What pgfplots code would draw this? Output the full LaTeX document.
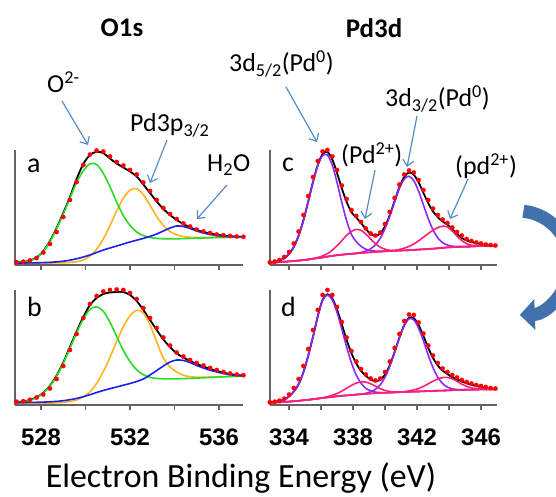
\documentclass[border=0pt]{standalone}
\usepackage{fontspec}
\setmainfont{Carlito}
\newfontfamily\arialfont{Liberation Sans}
\usepackage{pgfplots}
\pgfplotsset{compat=1.18}
\usepackage{pgfplotstable}
\usetikzlibrary{arrows.meta}

\definecolor{cgreen}{RGB}{40,220,40}
\definecolor{corange}{RGB}{255,180,30}
\definecolor{cblue}{RGB}{30,30,235}
\definecolor{cpurple}{RGB}{140,40,255}
\definecolor{cpink}{RGB}{255,30,120}
\definecolor{axgray}{RGB}{100,100,100}
\definecolor{annblue}{RGB}{85,140,200}
\definecolor{bigarrow}{RGB}{65,113,170}

\pgfplotsset{
  xps/.style={
    scale only axis, height=115bp,
    axis x line*=bottom, axis y line*=left,
    axis line style={draw=axgray, line width=1.3bp},
    ymin=0, ymax=115, ytick=\empty,
    tick align=outside, major tick length=5bp,
    every tick/.style={draw=axgray, line width=1.3bp},
    xticklabel style={font=\arialfont\bfseries\fontsize{24}{24}\selectfont, inner sep=0pt, anchor=north, yshift=-19bp},
    /pgf/number format/assume math mode=true,
    clip=false,
  },
  dotsty/.style={only marks, mark=*, mark size=2.2bp, mark options={fill=red, draw=red, line width=0.2bp}},
  fitsty/.style={black, smooth, line width=1.8bp, no marks},
  comp/.style={smooth, line width=1.6bp, no marks},
}

% O1s, panel a
\pgfplotstableread{
E dots fit g o b
526.9 2.8 2.5 2.4 2.0 2.0
527.2 3.3 3.1 3.0 2.0 2.0
527.5 4.6 4.5 4.3 2.0 2.1
527.8 7.0 7.5 7.3 2.0 2.2
528.1 12.5 13.8 13.5 2.0 2.4
528.4 21.0 24.0 23.5 2.0 2.7
528.7 33.0 37.0 36.3 2.1 3.1
529.0 48.0 52.0 50.9 2.2 3.8
529.3 65.0 68.0 66.8 2.5 4.8
529.6 83.0 86.0 82.4 3.3 6.2
529.9 100.0 101.0 94.2 5.1 8.0
530.2 110.5 110.0 101.2 8.9 10.0
530.5 114.5 113.3 100.5 15.7 12.5
530.8 113.5 111.8 91.7 26.0 15.0
531.1 108.5 106.5 78.2 39.3 17.0
531.4 103.0 101.5 62.9 53.9 19.0
531.7 99.5 97.5 49.4 66.8 21.0
532.0 95.0 93.5 39.6 74.9 23.0
532.3 90.5 88.5 33.0 76.3 24.8
532.6 82.5 80.5 29.4 70.4 26.6
532.9 74.0 72.0 27.6 59.7 28.6
533.2 65.0 63.5 26.6 48.4 31.0
533.5 57.0 56.0 26.2 39.6 34.0
533.8 51.0 50.0 26.1 33.5 37.0
534.1 46.0 45.0 26.2 30.1 39.0
534.4 41.5 41.0 26.4 28.4 38.5
534.7 38.5 37.5 26.6 27.7 36.5
535.0 35.5 35.0 26.8 27.5 34.0
535.3 33.5 33.0 27.0 27.5 32.0
535.6 32.0 31.5 27.2 27.6 30.5
535.9 30.5 30.3 27.4 27.7 29.5
536.2 29.8 29.3 27.5 27.8 28.8
536.5 29.0 28.8 27.6 27.9 28.4
536.8 28.5 28.3 27.7 28.0 28.2
537.1 28.2 28.0 27.8 28.0 28.0
}\tabA

% O1s, panel b
\pgfplotstableread{
E dots fit g o b
526.9 3.3 3.0 2.5 2.0 2.5
527.2 3.8 3.6 3.2 2.0 2.5
527.5 5.2 5.0 4.6 2.0 2.6
527.8 7.5 7.7 7.3 2.0 2.7
528.1 10.5 12.2 11.8 2.0 2.9
528.4 16.5 19.2 18.8 2.0 3.2
528.7 26.0 29.5 28.8 2.1 3.6
529.0 39.0 42.5 41.7 2.6 4.3
529.3 55.0 58.0 56.8 3.4 5.3
529.6 71.0 73.5 72.2 5.0 6.6
529.9 87.0 88.0 85.9 8.0 8.3
530.2 101.0 100.0 95.5 13.2 10.3
530.5 109.0 107.0 98.2 21.6 12.5
530.8 113.5 111.0 93.8 33.4 14.5
531.1 115.0 112.5 82.7 47.7 16.3
531.4 115.5 113.0 68.6 63.5 18.0
531.7 115.0 113.0 54.6 78.2 19.8
532.0 112.0 110.0 43.5 89.3 21.5
532.3 106.0 104.0 35.2 94.8 23.5
532.6 97.0 95.0 30.3 92.0 26.0
532.9 87.0 85.0 27.6 80.2 30.0
533.2 77.0 75.0 26.6 63.0 34.5
533.5 67.5 65.5 26.2 47.0 39.0
533.8 59.5 58.0 26.1 38.0 43.0
534.1 52.5 51.5 26.2 33.0 45.0
534.4 48.5 47.5 26.4 29.7 44.5
534.7 45.0 44.0 26.6 28.3 42.5
535.0 42.0 41.0 26.9 27.8 39.5
535.3 39.5 38.5 27.2 27.8 37.0
535.6 37.0 36.0 27.5 28.0 34.8
535.9 35.0 34.0 27.8 28.2 33.0
536.2 33.0 32.3 28.1 28.4 31.5
536.5 31.5 31.0 28.4 28.6 30.3
536.8 30.5 30.0 28.7 28.8 29.5
537.1 29.8 29.3 29.0 29.0 29.0
}\tabB

% Pd3d, panel c
\pgfplotstableread{
E dots fit p1 p2 k1 k2 bg
332.8 2.6 2.4 2.4 2.2 2.2 2.2 2.2
333.1 3.4 3.2 3.2 2.6 2.6 2.6 2.6
333.4 5.0 4.4 4.4 2.9 2.9 2.9 2.9
333.7 8.0 6.8 6.8 3.3 3.3 3.3 3.3
334.0 13.0 11.0 11.0 3.6 3.6 3.6 3.6
334.3 21.5 18.2 18.2 4.0 4.0 4.0 4.0
334.6 33.5 29.3 29.3 4.4 4.4 4.4 4.4
334.9 50.0 44.8 44.8 4.9 4.9 4.9 4.9
335.2 69.0 63.5 63.5 5.5 5.5 5.5 5.5
335.5 88.0 83.2 83.0 6.2 6.4 6.2 6.2
335.8 104.0 100.2 99.6 6.9 7.5 6.9 6.9
336.1 113.5 110.9 109.4 7.6 9.1 7.6 7.6
336.4 115.0 113.0 110.0 8.4 11.4 8.4 8.4
336.7 108.5 105.7 100.0 9.1 14.8 9.1 9.1
337.0 95.0 92.0 82.6 9.8 19.2 9.8 9.8
337.3 79.5 76.5 62.4 10.3 24.4 10.3 10.3
337.6 66.0 63.1 44.3 10.8 29.6 10.8 10.8
337.9 55.0 52.8 30.4 11.2 33.6 11.2 11.2
338.2 49.0 47.4 23.4 11.6 35.6 11.6 11.6
338.5 43.0 42.0 18.7 12.6 34.7 12.0 12.0
338.8 36.5 35.9 15.8 13.9 31.0 12.4 12.4
339.1 31.5 31.0 14.3 16.1 26.0 12.7 12.7
339.4 29.5 29.2 13.9 20.2 21.3 13.1 13.1
339.7 32.5 31.4 13.7 26.7 17.8 13.4 13.4
340.0 41.0 38.6 13.8 36.4 15.8 13.7 13.7
340.3 53.0 50.1 13.9 49.0 14.7 14.2 13.9
340.6 67.0 64.1 14.1 63.2 14.4 14.7 14.1
340.9 80.5 77.8 14.4 76.6 14.5 15.6 14.4
341.2 90.5 88.1 14.6 85.9 14.6 16.8 14.6
341.5 94.5 92.5 14.8 88.7 14.8 18.6 14.8
341.8 92.5 90.2 15.1 84.3 15.1 21.0 15.1
342.1 85.0 82.6 15.4 73.8 15.4 24.2 15.4
342.4 75.0 72.1 15.7 60.1 15.7 27.7 15.7
342.7 65.0 61.8 16.0 46.4 16.0 31.4 16.0
343.0 56.5 53.6 16.3 35.1 16.3 34.8 16.3
343.3 50.0 47.8 16.7 27.1 16.7 37.4 16.7
343.6 45.5 43.5 17.1 22.3 17.1 38.8 17.1
343.9 42.0 40.5 17.6 20.0 17.6 38.0 17.6
344.2 37.5 36.0 17.8 18.8 17.8 34.0 17.8
344.5 33.0 31.0 18.1 18.5 18.1 28.9 18.1
344.8 29.5 27.0 18.3 18.4 18.3 24.4 18.3
345.1 26.0 24.5 18.4 18.4 18.4 21.3 18.4
345.4 24.0 23.0 18.6 18.6 18.6 19.7 18.6
345.7 22.5 21.8 18.8 18.8 18.8 19.2 18.8
346.0 21.5 20.8 18.9 18.9 18.9 19.0 18.9
346.3 20.5 20.0 19.0 19.0 19.0 19.0 19.0
346.6 20.0 19.5 19.05 19.05 19.05 19.05 19.05
346.9 19.5 19.1 19.1 19.1 19.1 19.1 19.1
}\tabC

% Pd3d, panel d
\pgfplotstableread{
E dots fit p1 p2 k1 k2 bg
332.8 2.8 2.5 2.5 2.2 2.2 2.2 2.2
333.1 3.3 3.1 3.1 2.5 2.5 2.5 2.5
333.4 4.3 4.0 4.0 2.7 2.7 2.7 2.7
333.7 6.3 5.5 5.5 3.0 3.0 3.0 3.0
334.0 10.5 8.5 8.5 3.4 3.4 3.4 3.4
334.3 17.0 13.5 13.5 3.8 3.8 3.8 3.8
334.6 26.0 20.8 20.8 4.2 4.2 4.2 4.2
334.9 39.0 32.9 32.9 4.7 4.7 4.7 4.7
335.2 56.0 49.4 49.4 5.2 5.2 5.2 5.2
335.5 75.0 68.4 68.4 5.8 5.8 5.8 5.8
335.8 95.0 89.0 89.0 6.4 6.4 6.4 6.4
336.1 110.0 105.2 104.9 7.0 7.3 7.0 7.0
336.4 115.0 110.7 110.0 7.6 8.3 7.6 7.6
336.7 110.0 106.6 105.1 8.2 9.7 8.2 8.2
337.0 98.0 95.4 92.6 8.7 11.5 8.7 8.7
337.3 83.0 80.5 75.8 9.2 13.9 9.2 9.2
337.6 67.5 65.1 58.0 9.6 16.7 9.6 9.6
337.9 54.0 51.8 42.2 10.0 19.6 10.0 10.0
338.2 43.5 41.5 30.0 10.4 21.9 10.4 10.4
338.5 36.0 34.2 21.8 10.8 23.2 10.8 10.8
338.8 30.5 29.1 16.7 11.7 22.9 11.1 11.1
339.1 26.5 25.5 14.1 13.2 21.2 11.5 11.5
339.4 24.5 23.8 12.9 15.7 18.8 11.8 11.8
339.7 26.5 25.1 12.45 20.2 16.4 12.0 12.0
340.0 33.0 30.4 12.4 27.8 14.6 12.2 12.2
340.3 43.5 39.9 12.4 38.8 13.5 12.4 12.4
340.6 57.0 53.1 12.6 52.6 13.1 12.6 12.6
340.9 71.0 67.5 12.8 67.3 13.0 12.8 12.8
341.2 84.0 80.0 13.0 79.6 13.0 13.4 13.0
341.5 90.5 87.1 13.2 86.2 13.2 14.1 13.2
341.8 90.0 86.8 13.4 85.1 13.4 15.1 13.4
342.1 82.5 79.8 13.5 76.8 13.5 16.5 13.5
342.4 71.5 69.0 13.7 64.1 13.7 18.6 13.7
342.7 59.5 57.2 13.9 49.9 13.9 21.2 13.9
343.0 49.5 47.0 14.1 37.3 14.1 23.8 14.1
343.3 42.0 39.5 14.3 27.7 14.3 26.1 14.3
343.6 36.5 34.4 14.4 21.4 14.4 27.4 14.4
343.9 33.0 30.9 14.6 17.9 14.6 27.6 14.6
344.2 30.0 27.8 14.8 16.2 14.8 26.2 14.8
344.5 27.5 25.5 15.0 15.5 15.0 23.7 15.0
344.8 25.0 23.5 15.1 15.3 15.1 20.9 15.1
345.1 23.0 21.8 15.3 15.3 15.3 18.7 15.3
345.4 21.5 20.3 15.4 15.4 15.4 17.2 15.4
345.7 20.0 19.0 15.5 15.5 15.5 16.3 15.5
346.0 19.0 18.0 15.6 15.6 15.6 15.9 15.6
346.3 18.0 17.2 15.7 15.7 15.7 15.8 15.7
346.6 17.0 16.4 15.7 15.7 15.7 15.7 15.7
346.9 16.5 15.8 15.8 15.8 15.8 15.8 15.8
}\tabD

\begin{document}
\begin{tikzpicture}[x=1bp, y=1bp]
\path[use as bounding box] (0,0) rectangle (556,497);

% ---- O1s ----
\begin{axis}[xps, at={(15bp,232bp)}, anchor=south west, width=228bp,
    xmin=526.83, xmax=537.08, xtick={528,530,...,536}, xticklabels={}]
  \addplot[dotsty] table[x=E, y=dots] {\tabA};
  \addplot[fitsty] table[x=E, y=fit] {\tabA};
  \addplot[comp, corange] table[x=E, y=o] {\tabA};
  \addplot[comp, cgreen] table[x=E, y=g] {\tabA};
  \addplot[comp, cblue] table[x=E, y=b] {\tabA};
\end{axis}

\begin{axis}[xps, at={(15bp,92bp)}, anchor=south west, width=228bp,
    xmin=526.83, xmax=537.08, xtick={528,530,...,536}, xticklabels={528,,532,,536}]
  \addplot[dotsty] table[x=E, y=dots] {\tabB};
  \addplot[fitsty] table[x=E, y=fit] {\tabB};
  \addplot[comp, corange] table[x=E, y=o] {\tabB};
  \addplot[comp, cgreen] table[x=E, y=g] {\tabB};
  \addplot[comp, cblue] table[x=E, y=b] {\tabB};
\end{axis}

% ---- Pd3d ----
\begin{axis}[xps, at={(270bp,232bp)}, anchor=south west, width=227bp,
    xmin=332.81, xmax=347.0, xtick={334,336,...,346}, xticklabels={}]
  \addplot[dotsty] table[x=E, y=dots] {\tabC};
  \addplot[fitsty] table[x=E, y=fit] {\tabC};
  \addplot[comp, cpurple] table[x=E, y=p1] {\tabC};
  \addplot[comp, cpurple] table[x=E, y=p2] {\tabC};
  \addplot[comp, cpink] table[x=E, y=k1] {\tabC};
  \addplot[comp, cpink] table[x=E, y=k2] {\tabC};
  \addplot[comp, cpink] table[x=E, y=bg] {\tabC};
\end{axis}

\begin{axis}[xps, at={(270bp,92bp)}, anchor=south west, width=227bp,
    xmin=332.81, xmax=347.0, xtick={334,336,...,346}, xticklabels={334,,338,,342,,346}]
  \addplot[dotsty] table[x=E, y=dots] {\tabD};
  \addplot[fitsty] table[x=E, y=fit] {\tabD};
  \addplot[comp, cpurple] table[x=E, y=p1] {\tabD};
  \addplot[comp, cpurple] table[x=E, y=p2] {\tabD};
  \addplot[comp, cpink] table[x=E, y=k1] {\tabD};
  \addplot[comp, cpink] table[x=E, y=k2] {\tabD};
  \addplot[comp, cpink] table[x=E, y=bg] {\tabD};
\end{axis}

% titles, panel letters, axis label
\node[font=\bfseries\fontsize{27}{27}\selectfont] at (122,469) {O1s};
\node[font=\bfseries\fontsize{27}{27}\selectfont] at (374,469) {Pd3d};
\begin{scope}[every node/.style={anchor=base west, inner sep=0pt, font=\fontsize{28}{28}\selectfont}]
  \node at (27,324) {a};
  \node at (27,180) {b};
  \node at (282,325) {c};
  \node at (281,180) {d};
\end{scope}
\node[anchor=base, font=\fontsize{34}{34}\selectfont] at (241,9) {Electron Binding Energy (eV)};

% peak labels
\begin{scope}[every node/.style={anchor=base west, inner sep=0pt, font=\fontsize{26}{26}\selectfont}]
  \node at (47,404) {O\textsuperscript{2-}};
  \node at (130,365) {Pd3p\textsubscript{3/2}};
  \node at (207,325) {H\textsubscript{2}O};
  \node at (229,425) {3d\textsubscript{5/2}(Pd\textsuperscript{0})};
  \node at (385,390) {3d\textsubscript{3/2}(Pd\textsuperscript{0})};
  \node at (341,333) {(Pd\textsuperscript{2+})};
  \node at (455,322) {(pd\textsuperscript{2+})};
\end{scope}
\begin{scope}[annblue, line width=1.2bp, -{Straight Barb[length=6bp, width=11bp]}]
  \draw (62,396) -- (88,352);
  \draw (167,357) -- (150,314);
  \draw (227,312) -- (197,278);
  \draw (286,410) -- (317,355);
  \draw (375,327) -- (365,278);
  \draw (417,381) -- (407,330);
  \draw (468,318) -- (450,278);
\end{scope}

% curved arrow at the right edge
\begin{scope}
  \clip (0,0) rectangle (556,497);
  \draw[bigarrow, line width=13bp, -{Triangle[length=15bp, width=30bp]}]
    (518,234) ++(84:52) arc[start angle=84, end angle=-88, radius=52];
\end{scope}
\end{tikzpicture}
\end{document}
